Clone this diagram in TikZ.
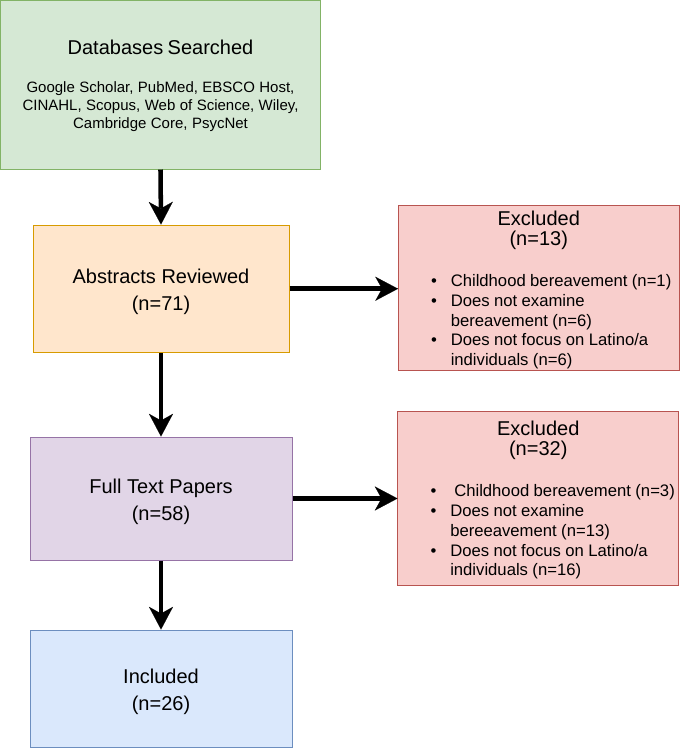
\documentclass[tikz,border=0pt]{standalone}
\usepackage{fontspec}
\setmainfont{Liberation Sans}
\usetikzlibrary{arrows.meta}
\definecolor{gfill}{HTML}{D5E8D4}\definecolor{gline}{HTML}{82B366}
\definecolor{ofill}{HTML}{FFE6CC}\definecolor{oline}{HTML}{D79B00}
\definecolor{pfill}{HTML}{E1D5E7}\definecolor{pline}{HTML}{9673A6}
\definecolor{bfill}{HTML}{DAE8FC}\definecolor{bline}{HTML}{6C8EBF}
\definecolor{rfill}{HTML}{F8CECC}\definecolor{rline}{HTML}{B85450}
\tikzset{
  box/.style={draw, rectangle, line width=0.75pt, inner sep=0pt},
  twoline/.style={box, align=center, font=\fontsize{15}{20}\selectfont},
  exbox/.style={box, fill=rfill, draw=rline, text width=210pt, minimum width=210.4pt},
  arr/.style={line width=3.4pt, -{Stealth[length=17pt,width=18pt,inset=5pt,line width=0.1pt]}},
}
\newcommand{\mybul}{\leavevmode\llap{\textbullet\hskip 10.4pt}}
\newcommand{\toppad}{\rule{0pt}{15.5pt}}
\begin{document}
\begin{tikzpicture}[x=0.75pt,y=-0.75pt]
\useasboundingbox (0,0) rectangle (680,749);

\node[box, fill=gfill, draw=gline, minimum width=240pt, minimum height=126.4pt, text width=240pt] (db) at (160.5,84.75)
 {\centering\parindent=0pt
  {\fontsize{15}{18}\selectfont\rule{0pt}{13pt}Databases Searched\par}\vskip 15pt
  {\fontsize{11.25}{13.5}\selectfont Google Scholar, PubMed, EBSCO Host,\\CINAHL, Scopus, Web of Science, Wiley,\\Cambridge Core, PsycNet\par}};

\node[twoline, fill=ofill, draw=oline, minimum width=192pt, minimum height=95.6pt] (abs) at (161,288.75)
 {\toppad Abstracts Reviewed\\(n=71)};

\node[twoline, fill=pfill, draw=pline, minimum width=196.5pt, minimum height=92.25pt] (ft) at (161,498.5)
 {\toppad Full Text Papers\\(n=58)};

\node[twoline, fill=bfill, draw=bline, minimum width=196.5pt, minimum height=88.1pt] (inc) at (161,688.75)
 {\toppad Included\\(n=26)};

\node[exbox, minimum height=123.4pt] (ex1) at (538.75,288.25)
 {\parindent=0pt
  {\centering\fontsize{15}{15.5}\selectfont\rule{0pt}{13.5pt}Excluded\\(n=13)\par}\vskip 15.8pt
  {\fontsize{12.5}{14.8}\selectfont\raggedright\leftskip=39pt
   \mybul Childhood bereavement (n=1)\newline
   \mybul Does not examine\newline
   bereavement (n=6)\newline
   \mybul Does not focus on Latino/a\newline
   individuals (n=6)\par}};

\node[exbox, minimum height=130.5pt] (ex2) at (538.25,498.5)
 {\parindent=0pt
  {\centering\fontsize{15}{15}\selectfont\rule{0pt}{13.5pt}Excluded\\(n=32)\par}\vskip 15.8pt
  {\fontsize{12.5}{14.9}\selectfont\raggedright\leftskip=39pt
   \mybul\hspace*{3pt}Childhood bereavement (n=3)\newline
   \mybul Does not examine\newline
   bereeavement (n=13)\newline
   \mybul Does not focus on Latino/a\newline
   individuals (n=16)\par}};

\draw[arr] (db.south) -- (abs.north);
\draw[arr] (abs.south) -- (ft.north);
\draw[arr] (ft.south) -- (inc.north);
\draw[arr] (abs.east) -- (abs.east -| ex1.west);
\draw[arr] (ft.east) -- (ft.east -| ex2.west);
\end{tikzpicture}
\end{document}
